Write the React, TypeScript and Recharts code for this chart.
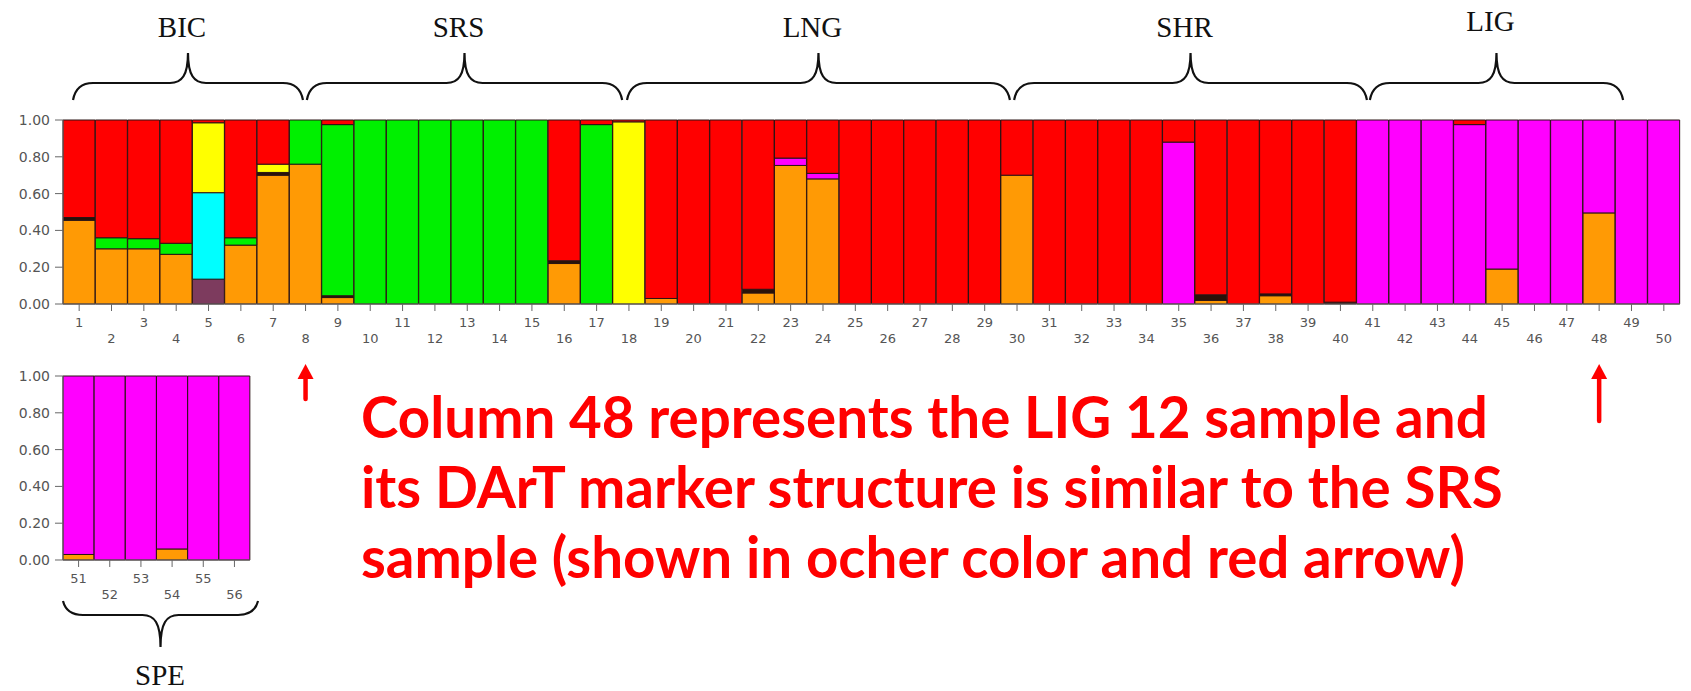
import React from "react";
import { BarChart, Bar, XAxis, YAxis } from "recharts";

// sample ids (columns of the STRUCTURE plot)
const samples = [
  "1", "2", "3", "4", "5", "6", "7", "8", "9", "10",
  "11", "12", "13", "14", "15", "16", "17", "18", "19", "20",
  "21", "22", "23", "24", "25", "26", "27", "28", "29", "30",
  "31", "32", "33", "34", "35", "36", "37", "38", "39", "40",
  "41", "42", "43", "44", "45", "46", "47", "48", "49", "50",
  "51", "52", "53", "54", "55", "56",
];

// membership coefficients per cluster, stacked bottom -> top
const mauve = [
  0, 0, 0, 0, 0.135, 0, 0, 0, 0, 0,
  0, 0, 0, 0, 0, 0, 0, 0, 0, 0,
  0, 0, 0, 0, 0, 0, 0, 0, 0, 0,
  0, 0, 0, 0, 0, 0, 0, 0, 0, 0,
  0, 0, 0, 0, 0, 0, 0, 0, 0, 0,
  0, 0, 0, 0, 0, 0,
];
const ocher = [
  0.455, 0.3, 0.3, 0.27, 0, 0.32, 0.7, 0.76, 0.035, 0,
  0, 0, 0, 0, 0, 0.22, 0, 0, 0.03, 0,
  0, 0.06, 0.753, 0.68, 0, 0, 0, 0, 0, 0.7,
  0, 0, 0, 0, 0, 0.02, 0, 0.045, 0, 0,
  0, 0, 0, 0, 0.19, 0, 0, 0.495, 0, 0,
  0.03, 0, 0, 0.06, 0, 0,
];
const dark = [
  0.015, 0, 0, 0, 0, 0, 0.015, 0, 0.01, 0,
  0, 0, 0, 0, 0, 0.015, 0, 0, 0, 0,
  0, 0.02, 0, 0, 0, 0, 0, 0, 0, 0,
  0, 0, 0, 0, 0, 0.03, 0, 0.01, 0, 0.01,
  0, 0, 0, 0, 0, 0, 0, 0, 0, 0,
  0, 0, 0, 0, 0, 0,
];
const cyan = [
  0, 0, 0, 0, 0.47, 0, 0, 0, 0, 0,
  0, 0, 0, 0, 0, 0, 0, 0, 0, 0,
  0, 0, 0, 0, 0, 0, 0, 0, 0, 0,
  0, 0, 0, 0, 0, 0, 0, 0, 0, 0,
  0, 0, 0, 0, 0, 0, 0, 0, 0, 0,
  0, 0, 0, 0, 0, 0,
];
const yellow = [
  0, 0, 0, 0, 0.38, 0, 0.045, 0, 0, 0,
  0, 0, 0, 0, 0, 0, 0, 0.99, 0, 0,
  0, 0, 0, 0, 0, 0, 0, 0, 0, 0,
  0, 0, 0, 0, 0, 0, 0, 0, 0, 0,
  0, 0, 0, 0, 0, 0, 0, 0, 0, 0,
  0, 0, 0, 0, 0, 0,
];
const green = [
  0, 0.06, 0.055, 0.06, 0, 0.04, 0, 0.24, 0.93, 1,
  1, 1, 1, 1, 1, 0, 0.975, 0, 0, 0,
  0, 0, 0, 0, 0, 0, 0, 0, 0, 0,
  0, 0, 0, 0, 0, 0, 0, 0, 0, 0,
  0, 0, 0, 0, 0, 0, 0, 0, 0, 0,
  0, 0, 0, 0, 0, 0,
];
const magenta = [
  0, 0, 0, 0, 0, 0, 0, 0, 0, 0,
  0, 0, 0, 0, 0, 0, 0, 0, 0, 0,
  0, 0, 0.04, 0.03, 0, 0, 0, 0, 0, 0,
  0, 0, 0, 0, 0.88, 0, 0, 0, 0, 0,
  1, 1, 1, 0.975, 0.81, 1, 1, 0.505, 1, 1,
  0.97, 1, 1, 0.94, 1, 1,
];
const red = [
  0.53, 0.64, 0.645, 0.67, 0.015, 0.64, 0.24, 0, 0.025, 0,
  0, 0, 0, 0, 0, 0.765, 0.025, 0.01, 0.97, 1,
  1, 0.92, 0.207, 0.29, 1, 1, 1, 1, 1, 0.3,
  1, 1, 1, 1, 0.12, 0.95, 1, 0.945, 1, 0.99,
  0, 0, 0, 0.025, 0, 0, 0, 0, 0, 0,
  0, 0, 0, 0, 0, 0,
];

// population groups (brace span in sample units)
const groupNames = ["BIC", "SRS", "LNG", "SHR", "LIG"];
const groupFrom = [0.31, 7.54, 17.44, 29.41, 40.41];
const groupTo = [7.42, 17.29, 29.28, 40.32, 48.24];
const arrowSamples = [8, 48];

const note = [
  "Column 48 represents the LIG 12 sample and",
  "its DArT marker structure is similar to the SRS",
  "sample (shown in ocher color and red arrow)",
];

const clusters = [
  { key: "mauve", values: mauve, color: "#7d3b5e" },
  { key: "ocher", values: ocher, color: "#ff9a05" },
  { key: "dark", values: dark, color: "#2a1208" },
  { key: "cyan", values: cyan, color: "#00ffff" },
  { key: "yellow", values: yellow, color: "#ffff00" },
  { key: "green", values: green, color: "#00f000" },
  { key: "magenta", values: magenta, color: "#ff00ff" },
  { key: "red", values: red, color: "#ff0000" },
];

const rows = samples.map((s, i) => {
  const r: any = { sample: s };
  clusters.forEach((c) => (r[c.key] = c.values[i]));
  return r;
});
const mainRows = rows.slice(0, 50);
const speRows = rows.slice(50);

const CHART_H = 360;
const MARGIN = { top: 120, right: 11, left: 8, bottom: 10 };
const Y_W = 55;
const X_H = 46;
const PLOT_L = MARGIN.left + Y_W;
const UNIT = (1691 - MARGIN.left - MARGIN.right - Y_W) / 50;
const sx = (u: number) => PLOT_L + u * UNIT;

const SampleTick = (props: any) => {
  const { x, y, payload } = props;
  const even = Number(payload.value) % 2 === 0;
  return (
    <text x={x} y={y + (even ? 30 : 14)} textAnchor="middle" fontSize={13} fill="#555" fontFamily="DejaVu Sans">
      {payload.value}
    </text>
  );
};

const StructurePlot = ({ data, width }: { data: any[]; width: number }) => (
  <BarChart width={width} height={CHART_H} data={data} margin={MARGIN} barCategoryGap={0}>
    <XAxis dataKey="sample" interval={0} tickSize={7} tickMargin={2} height={X_H}
      stroke="#666" tick={<SampleTick />} />
    <YAxis domain={[0, 1]} ticks={[0, 0.2, 0.4, 0.6, 0.8, 1]} width={Y_W} tickSize={8} tickMargin={5}
      stroke="#666" tickFormatter={(v: number) => v.toFixed(2)}
      tick={{ fontSize: 14, fill: "#555", fontFamily: "DejaVu Sans" }} />
    {clusters.map((c) => (
      <Bar key={c.key} dataKey={c.key} stackId="q" fill={c.color} stroke="#2a1414" strokeWidth={1}
        isAnimationActive={false} />
    ))}
  </BarChart>
);

// curly brace; tip goes up or down depending on yTip vs yMid
const bracePath = (x1: number, x2: number, yEnd: number, yMid: number, yTip: number) => {
  const xm = (x1 + x2) / 2;
  const s = Math.sign(yTip - yMid);
  return `M${x1},${yEnd} C${x1 + 2},${yMid - s * 6} ${x1 + 8},${yMid} ${x1 + 20},${yMid} ` +
    `L${xm - 18},${yMid} C${xm - 6},${yMid} ${xm},${yMid + s * 8} ${xm},${yTip} ` +
    `C${xm},${yMid + s * 8} ${xm + 6},${yMid} ${xm + 18},${yMid} ` +
    `L${x2 - 20},${yMid} C${x2 - 8},${yMid} ${x2 - 2},${yMid - s * 6} ${x2},${yEnd}`;
};

export default function App() {
  const speWidth = PLOT_L + 6 * UNIT + 4;
  return (
    <div style={{ position: "absolute", left: 0, top: 0, width: 1691, height: 691, background: "#fff", overflow: "hidden" }}>
      <div style={{ position: "absolute", left: 0, top: 0 }}>
        <StructurePlot data={mainRows} width={1691} />
      </div>
      <div style={{ position: "absolute", left: 0, top: 256 }}>
        <StructurePlot data={speRows} width={speWidth} />
      </div>
      <svg width={1691} height={691} style={{ position: "absolute", left: 0, top: 0, pointerEvents: "none" }}>
        {groupNames.map((g, i) => {
          const x1 = sx(groupFrom[i]);
          const x2 = sx(groupTo[i]);
          return (
            <g key={g}>
              <path d={bracePath(x1, x2, 100, 83, 53)} fill="none" stroke="#111" strokeWidth={2.2} />
              <text x={(x1 + x2) / 2 - 6} y={g === "LIG" ? 31 : 37} textAnchor="middle" fontSize={29}
                fontFamily="Liberation Serif" fill="#111">{g}</text>
            </g>
          );
        })}
        <path d={bracePath(sx(0), sx(6) + 1, 601, 615, 647)} fill="none" stroke="#111" strokeWidth={2.2} />
        <text x={(sx(0) + sx(6)) / 2} y={685} textAnchor="middle" fontSize={29} fontFamily="Liberation Serif" fill="#111">SPE</text>
        {arrowSamples.map((s, i) => {
          const x = sx(s - 0.5);
          const yb = i === 0 ? 399 : 421;
          return (
            <g key={s}>
              <line x1={x} y1={yb} x2={x} y2={376} stroke="#ff0000" strokeWidth={4.5} strokeLinecap="round" />
              <path d={`M${x - 8},${379} L${x},${364} L${x + 8},${379} Z`} fill="#ff0000" />
            </g>
          );
        })}
        {note.map((line, i) => (
          <text key={i} x={361} y={438 + i * 70} fontSize={56.5} fontWeight="bold" fontFamily="Lato" fill="#ff0000">
            {line}
          </text>
        ))}
      </svg>
    </div>
  );
}
